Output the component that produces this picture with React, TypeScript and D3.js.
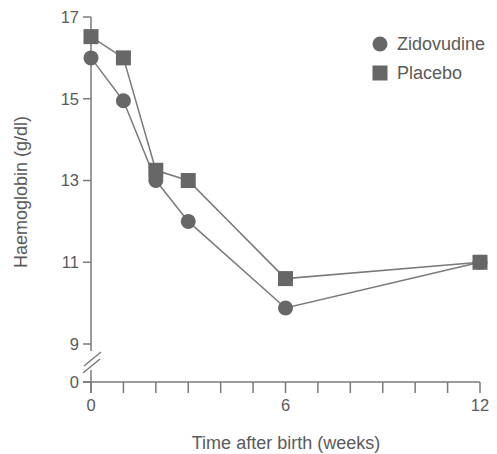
import React from "react";
import * as d3 from "d3";

const weeks = [0, 1, 2, 3, 6, 12];
const zidovudine = [16.0, 14.95, 13.0, 12.0, 9.88, 11.0];
const placebo = [16.52, 16.0, 13.25, 13.0, 10.6, 11.0];
const xTickLabels = [0, 6, 12];
const xMinorTicks = d3.range(0, 13);
const yTicks = [0, 9, 11, 13, 15, 17];
const seriesNames = ["Zidovudine", "Placebo"];

const W = 497;
const H = 454;
const textColor = "#5a5a5a";
const lineColor = "#7a7a7a";
const markColor = "#676767";
const font = "'Liberation Sans', Arial, sans-serif";

export default function App() {
  const x = d3.scaleLinear().domain([0, 12]).range([91, 480]);
  const y = d3.scaleLinear().domain([0, 9, 17]).range([382, 344, 17]);
  const line = d3
    .line<[number, number]>()
    .x((d) => x(d[0]))
    .y((d) => y(d[1]));
  const zData = weeks.map((w, i) => [w, zidovudine[i]] as [number, number]);
  const pData = weeks.map((w, i) => [w, placebo[i]] as [number, number]);
  const x0 = x(0);
  const y0 = y(0);
  const sq = 15;

  return (
    <svg
      width={W}
      height={H}
      style={{ position: "absolute", left: 0, top: 0, background: "#fff" }}
      fontFamily={font}
    >
      {/* y axis upper segment */}
      <line x1={x0} x2={x0} y1={y(17)} y2={351} stroke={lineColor} strokeWidth={1.5} />
      {/* y axis lower segment */}
      <line x1={x0} x2={x0} y1={370} y2={y0 + 11} stroke={lineColor} strokeWidth={1.5} />
      {/* break marks */}
      <line x1={83} y1={373} x2={100} y2={359} stroke={lineColor} strokeWidth={1.5} />
      <line x1={84} y1={366} x2={101} y2={352} stroke={lineColor} strokeWidth={1.5} />
      {/* x axis */}
      <line x1={x0 - 8} x2={x(12)} y1={y0} y2={y0} stroke={lineColor} strokeWidth={1.5} />
      {xMinorTicks.map((t) => (
        <line key={t} x1={x(t)} x2={x(t)} y1={y0} y2={y0 + 11} stroke={lineColor} strokeWidth={1.5} />
      ))}
      {xTickLabels.map((t) => (
        <text key={t} x={x(t)} y={y0 + 29} textAnchor="middle" fontSize={16.5} fill={textColor}>
          {t}
        </text>
      ))}
      {yTicks.map((t) => (
        <g key={t}>
          <line x1={x0 - 8} x2={x0} y1={y(t)} y2={y(t)} stroke={lineColor} strokeWidth={1.5} />
          <text x={x0 - 12} y={y(t)} dy="0.36em" textAnchor="end" fontSize={16.5} fill={textColor}>
            {t}
          </text>
        </g>
      ))}
      {/* axis titles */}
      <text x={286} y={449} textAnchor="middle" fontSize={18} fill={textColor}>
        Time after birth (weeks)
      </text>
      <text
        transform={`translate(27,192) rotate(-90)`}
        textAnchor="middle"
        fontSize={18}
        fill={textColor}
      >
        Haemoglobin (g/dl)
      </text>
      {/* lines */}
      <path d={line(pData) || ""} fill="none" stroke={lineColor} strokeWidth={1.5} />
      <path d={line(zData) || ""} fill="none" stroke={lineColor} strokeWidth={1.5} />
      {/* markers */}
      {zData.map((d, i) => (
        <circle key={"z" + i} cx={x(d[0])} cy={y(d[1])} r={7.5} fill={markColor} />
      ))}
      {pData.map((d, i) => (
        <rect
          key={"p" + i}
          x={x(d[0]) - sq / 2}
          y={y(d[1]) - sq / 2}
          width={sq}
          height={sq}
          fill={markColor}
        />
      ))}
      {/* legend */}
      <circle cx={380} cy={44} r={7.5} fill={markColor} />
      <text x={397} y={44} dy="0.36em" fontSize={18} fill={textColor}>
        {seriesNames[0]}
      </text>
      <rect x={380 - sq / 2} y={73 - sq / 2} width={sq} height={sq} fill={markColor} />
      <text x={397} y={73} dy="0.36em" fontSize={18} fill={textColor}>
        {seriesNames[1]}
      </text>
    </svg>
  );
}
